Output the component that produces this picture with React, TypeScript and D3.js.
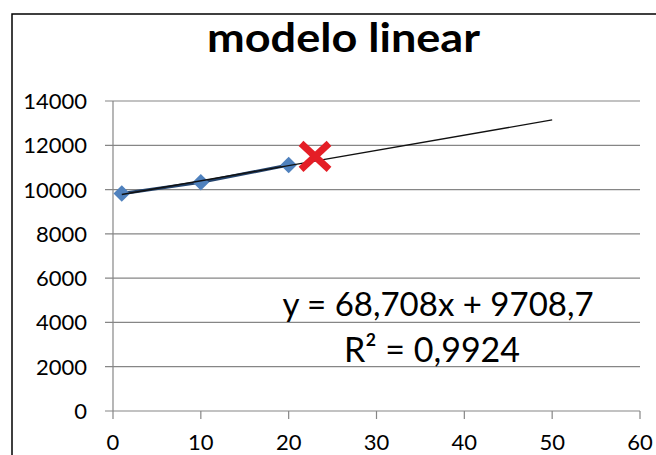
import React from 'react';
import * as d3 from 'd3';

// observed points
const xValues = [1, 10, 20];
const yValues = [9820, 10330, 11110];

// predicted point (red cross)
const predX = [23];
const predY = [11500];

// trendline from the equation label
const slope = 68.708;
const intercept = 9708.7;
const trendDomain = [1, 50];

const xTicks = [0, 10, 20, 30, 40, 50, 60];
const yTicks = [0, 2000, 4000, 6000, 8000, 10000, 12000, 14000];

const title = 'modelo linear';
const eqLabel = 'y = 68,708x + 9708,7';
const r2Label = 'R² = 0,9924';

const W = 656;
const H = 455;
const FONT = 'Lato, "Open Sans", sans-serif';
const GRID = '#868686';

export default function App() {
  const x = d3.scaleLinear().domain([0, 60]).range([113, 640]);
  const y = d3.scaleLinear().domain([0, 14000]).range([411, 101]);

  const points = xValues.map((v, i) => ({ x: v, y: yValues[i] }));
  const line = d3.line<{ x: number; y: number }>()
    .x((d) => x(d.x))
    .y((d) => y(d.y));

  const trend = trendDomain.map((v) => ({ x: v, y: slope * v + intercept }));
  const diamond = d3.symbol().type(d3.symbolDiamond2).size(175)();

  return (
    <svg
      width={W}
      height={H}
      style={{ position: 'absolute', left: 0, top: 0, background: '#fff' }}
      fontFamily={FONT}
    >
      {/* chart frame (clipped on right/bottom) */}
      <path d={`M12,${H} V14 H${W}`} fill="none" stroke="#000" strokeWidth={1.5} />

      <text
        x={207}
        y={52}
        fontSize={40}
        fontWeight={700}
        fill="#000"
        textLength={273}
        lengthAdjust="spacingAndGlyphs"
      >
        {title}
      </text>

      {/* grid */}
      {yTicks.map((t) => (
        <g key={t}>
          <line x1={105} x2={640} y1={y(t)} y2={y(t)} stroke={GRID} strokeWidth={1.2} />
          <text x={87} y={y(t) + 8} textAnchor="end" fontSize={22} fill="#000">
            {t}
          </text>
        </g>
      ))}

      {/* y axis */}
      <line x1={x(0)} x2={x(0)} y1={y(14000)} y2={y(0)} stroke={GRID} strokeWidth={1.2} />

      {/* x ticks */}
      {xTicks.map((t) => (
        <g key={t}>
          <line x1={x(t)} x2={x(t)} y1={y(0)} y2={y(0) + 8} stroke={GRID} strokeWidth={1.2} />
          <text x={x(t)} y={450} textAnchor="middle" fontSize={22} fill="#000">
            {t}
          </text>
        </g>
      ))}

      {/* series line */}
      <path d={line(points) || ''} fill="none" stroke="#23426b" strokeWidth={3.2} />

      {points.map((p, i) => (
        <path key={i} d={diamond || ''} transform={`translate(${x(p.x)},${y(p.y)})`} fill="#4f81bd" />
      ))}

      {/* trendline */}
      <path d={line(trend) || ''} fill="none" stroke="#111" strokeWidth={1.3} />

      {/* predicted value */}
      {predX.map((px, i) => {
        const cx = x(px);
        const cy = y(predY[i]);
        return (
          <g key={i} stroke="#e41e26" strokeWidth={7}>
            <line x1={cx - 14} y1={cy - 13} x2={cx + 14} y2={cy + 13} />
            <line x1={cx - 14} y1={cy + 13} x2={cx + 14} y2={cy - 13} />
          </g>
        );
      })}

      <text x={438} y={316} textAnchor="middle" fontSize={33} fill="#000">
        {eqLabel}
      </text>
      <text x={432} y={362} textAnchor="middle" fontSize={34} fill="#000">
        {r2Label}
      </text>
    </svg>
  );
}
